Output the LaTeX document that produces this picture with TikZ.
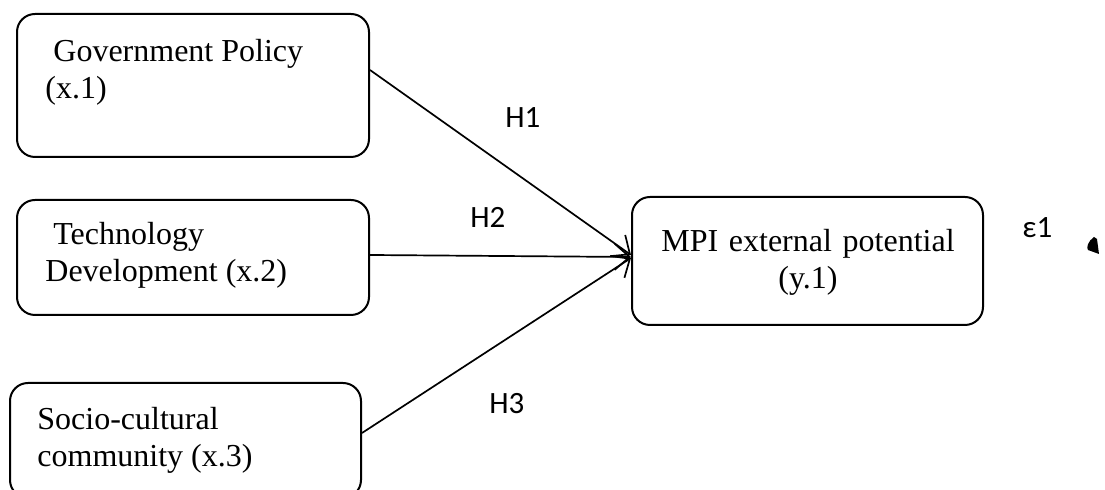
\documentclass[tikz,border=0pt]{standalone}
\usepackage{fontspec}
\setmainfont{Liberation Serif}
\newfontfamily\labfont{Carlito}
\usetikzlibrary{arrows.meta}
\begin{document}
\begin{tikzpicture}[x=0.5pt,y=-0.5pt,
  box/.style={draw, line width=1pt, rounded corners=9pt, inner sep=0pt},
  boxtext/.style={inner sep=0pt, font=\fontsize{16}{18.5}\selectfont, text width=170pt, align=flush left, anchor=base west},
  hlab/.style={inner sep=0pt, font=\labfont\fontsize{15.5}{18}\selectfont, anchor=base west},
  path/.style={line width=0.85pt, -{Straight Barb[length=7.5pt,width=13pt,line width=0.85pt]}}]
\useasboundingbox (0,0) rectangle (1105,490);
% boxes
\node[box, minimum width=176pt, minimum height=71.5pt] (b1) at (193,85.5) {};
\node[box, minimum width=176pt, minimum height=57.5pt] (b2) at (193,257.5) {};
\node[box, minimum width=175.5pt, minimum height=57.5pt] (b3) at (185.5,440.5) {};
\node[box, minimum width=175.5pt, minimum height=64pt] (m) at (807.5,261) {};
% texts
\node[boxtext] (t1) at (45,62) {\hspace{4pt}Government Policy\\(x.1)};
\node[boxtext] (t2) at (45,245) {\hspace{4pt}Technology\\Development (x.2)};
\node[boxtext] (t3) at (37,430) {Socio-cultural\\community (x.3)};
\node[boxtext, align=center, text width=160pt, anchor=base] (tm) at (808,252) {MPI external potential\\(y.1)};
% connectors
\draw[path] ([yshift=7.75pt]b1.east) -- ([yshift=3pt]m.west);
\draw[path] ([yshift=1.25pt]b2.east) -- ([yshift=2pt]m.west);
\draw[path] ([yshift=3.75pt]b3.east) -- ([yshift=1.5pt]m.west);
% labels
\node[hlab] (h1) at (505,128) {H1};
\node[hlab] (h2) at (470,228) {H2};
\node[hlab] (h3) at (489,414) {H3};
\node[hlab] (e1) at (1022,238) {ε1};
% small black mark
\fill (1094,237) -- (1097,239) -- (1099,254) -- (1088,250) .. controls (1086,248) and (1088,241) .. cycle;
\end{tikzpicture}
\end{document}
